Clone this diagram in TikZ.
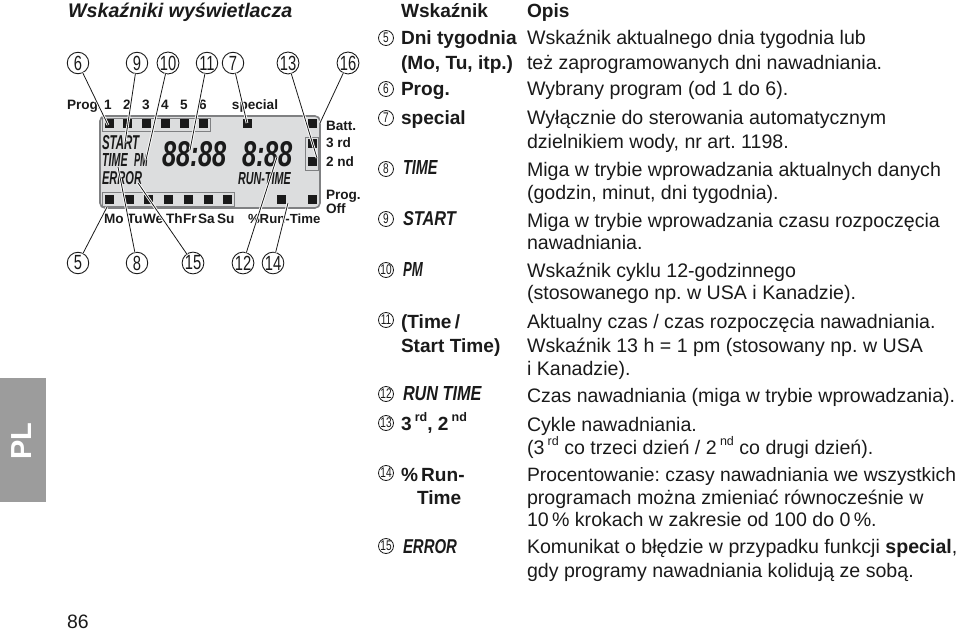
\documentclass[tikz,border=0pt]{standalone}
\usepackage{fontspec}
\setmainfont{Liberation Sans}
\frenchspacing
\newcommand{\upx}[1]{\raisebox{0.42em}{\fontsize{12.5}{13}\selectfont #1}}
\newcommand{\lcdtxt}[3]{\resizebox{#1pt}{#2pt}{\textbf{\textit{#3}}}}
\definecolor{ink}{HTML}{1A1A1A}
\definecolor{lcdbg}{HTML}{DCDDDE}
\definecolor{lcdedge}{HTML}{7F8082}
\definecolor{tabgray}{HTML}{9C9C9C}
\tikzset{
  x=1pt,y=-1pt,
  every node/.style={inner sep=0pt,outer sep=0pt,text=ink},
  body/.style={anchor=base west,font=\fontsize{19.6}{23}\selectfont},
  key/.style={anchor=base west,font=\fontsize{19.1}{23}\selectfont\bfseries},
  lcdkey/.style={anchor=south west},
  small/.style={anchor=base west,font=\fontsize{13.6}{15}\selectfont\bfseries},
  smallc/.style={anchor=base,font=\fontsize{13.6}{15}\selectfont\bfseries},
  bigc/.style={circle,draw=ink,line width=0.9pt,minimum size=21.5pt,font=\fontsize{20.5}{21}\selectfont},
  tabc/.style={circle,draw=ink,line width=0.8pt,minimum size=15pt,font=\fontsize{14}{15}\selectfont},
  leader/.style={draw=ink,line width=0.8pt,preaction={draw=white,line width=2.6pt}},
  sq/.style={fill=ink,minimum size=9pt,shape=rectangle},
  frame/.style={draw=lcdedge,line width=0.9pt,fill=none},
}
\newcommand{\nar}[1]{\scalebox{0.72}[1]{#1}}
\begin{document}
\begin{tikzpicture}
\useasboundingbox (0,0) rectangle (960,631);
% tab and page number
\fill[tabgray] (0,378) rectangle (46,502);
\node[rotate=90,text=white,font=\fontsize{29}{30}\selectfont\bfseries] (pl) at (22,441) {PL};
\node[anchor=base,font=\fontsize{19.4}{23}\selectfont] (page) at (78,628) {86};
% title
\node[anchor=base west,font=\fontsize{19.7}{23}\selectfont\bfseries\itshape] (title) at (68,18) {Wskaźniki wyświetlacza};
% LCD
\draw[draw=lcdedge,line width=1.6pt,fill=lcdbg,rounded corners=5pt] (100,116) rectangle (320,208);
\draw[frame] (102,118) rectangle (210,131);
\draw[frame] (102,192) rectangle (234,206);
\draw[frame] (305,137) rectangle (318,170);
\foreach \xx in {109,127,146,165,184,203,247,312} \node[sq] at (\xx,124) {};
\foreach \xx in {109,129,148,168,188,208,227,281,312} \node[sq] at (\xx,199) {};
\node[sq] (s3rd) at (312,144) {};
\node[sq] (s2nd) at (312,162) {};
\node[lcdkey] (lstart) at (102,150) {\lcdtxt{38}{14}{START}};
\node[lcdkey] (ltime) at (102,167) {\lcdtxt{26}{13}{TIME}};
\node[lcdkey] (lpm) at (134,167) {\lcdtxt{14}{13}{PM}};
\node[lcdkey] (lerror) at (102,185) {\lcdtxt{40}{13}{ERROR}};
\node[lcdkey] (ld1) at (162,167) {\lcdtxt{65}{25}{88:88}};
\node[lcdkey] (ld2) at (242,167) {\lcdtxt{51}{25}{8:88}};
\node[lcdkey] (lrun) at (238,185) {\lcdtxt{53}{12}{RUN-TIME}};
% labels round the LCD
\node[small] (lprog) at (67,110) {Prog.};
\node[smallc] (n1) at (108,110) {1};
\node[smallc] (n2) at (127,110) {2};
\node[smallc] (n3) at (146,110) {3};
\node[smallc] (n4) at (165,110) {4};
\node[smallc] (n5) at (184,110) {5};
\node[smallc] (n6) at (203,110) {6};
\node[smallc] (lspecial) at (255,110) {special};
\node[small] (lbatt) at (326,131) {Batt.};
\node[small] (l3rd) at (326,148) {3 rd};
\node[small] (l2nd) at (326,167) {2 nd};
\node[small] (lprog2) at (326,199) {Prog.};
\node[small] (loff) at (326,213) {Off};
\node[small] (dmo) at (104,223) {Mo};
\node[small] (dtu) at (127,223) {Tu};
\node[small] (dwe) at (143,223) {We};
\node[small] (dth) at (166,223) {Th};
\node[small] (dfr) at (183,223) {Fr};
\node[small] (dsa) at (198,223) {Sa};
\node[small] (dsu) at (217,223) {Su};
\node[small,font=\fontsize{13.2}{15}\selectfont\bfseries] (drun) at (248,223) {\%Run-Time};
% callouts
\node[bigc] (c6) at (78,63) {\nar{6}};
\node[bigc] (c9) at (137,63) {\nar{9}};
\node[bigc] (c10) at (168,63) {\nar{10}};
\node[bigc] (c11) at (207,63) {\nar{11}};
\node[bigc] (c7) at (233,63) {\nar{7}};
\node[bigc] (c13) at (288,63) {\nar{13}};
\node[bigc] (c16) at (348,63) {\nar{16}};
\node[bigc] (c5) at (78,263) {\nar{5}};
\node[bigc] (c8) at (137,263) {\nar{8}};
\node[bigc] (c15) at (193,263) {\nar{15}};
\node[bigc] (c12) at (243,263) {\nar{12}};
\node[bigc] (c14) at (273,263) {\nar{14}};
\coordinate (e6) at (108,125);
\coordinate (e9) at (125,143);
\coordinate (e10) at (146,160);
\coordinate (e11) at (190,150);
\coordinate (e7) at (247,123);
\coordinate (e13) at (317,158);
\coordinate (e16) at (320,123);
\coordinate (e5) at (107,207);
\coordinate (e8) at (118,167);
\coordinate (e15) at (138,183);
\coordinate (e12) at (277,157);
\coordinate (e14) at (288,203);
\foreach \a/\b in {c6/e6,c9/e9,c10/e10,c11/e11,c7/e7,c13/e13,c16/e16,c5/e5,c8/e8,c15/e15,c12/e12,c14/e14}
  \draw[leader] (\a) -- (\b);
% table head
\node[key] (hw) at (401,18) {Wskaźnik};
\node[key] (ho) at (527,18) {Opis};
% row markers
\node[tabc] (r5) at (386,38) {\nar{5}};
\node[tabc] (r6) at (386,89) {\nar{6}};
\node[tabc] (r7) at (386,118) {\nar{7}};
\node[tabc] (r8) at (386,169) {\nar{8}};
\node[tabc] (r9) at (386,219) {\nar{9}};
\node[tabc] (r10) at (386,270) {\nar{10}};
\node[tabc] (r11) at (386,320) {\nar{11}};
\node[tabc] (r12) at (386,394) {\nar{12}};
\node[tabc] (r13) at (386,423) {\nar{13}};
\node[tabc] (r14) at (386,473) {\nar{14}};
\node[tabc] (r15) at (386,546) {\nar{15}};
% keys
\node[key] (k5a) at (401,45) {Dni tygodnia};
\node[key] (k5b) at (401,70) {(Mo, Tu, itp.)};
\node[key] (k6) at (401,96) {Prog.};
\node[key] (k7) at (401,125) {special};
\node[lcdkey] (k8) at (403,175) {\lcdtxt{35}{14}{TIME}};
\node[lcdkey] (k9) at (403,226) {\lcdtxt{54}{14}{START}};
\node[lcdkey] (k10) at (403,276) {\lcdtxt{20}{14}{PM}};
\node[key] (k11a) at (401,328) {(Time\,/};
\node[key] (k11b) at (401,352) {Start Time)};
\node[lcdkey] (k12) at (403,401) {\lcdtxt{79}{14}{RUN TIME}};
\node[key] (k13) at (401,430) {3\,\upx{rd}, 2\,\upx{nd}};
\node[key] (k14a) at (401,481) {\%\,Run-};
\node[key] (k14b) at (417,504) {Time};
\node[lcdkey] (k15) at (403,554) {\lcdtxt{54}{14}{ERROR}};
% descriptions
\node[body] (d5a) at (527,45) {Wskaźnik aktualnego dnia tygodnia lub};
\node[body] (d5b) at (527,70) {też zaprogramowanych dni nawadniania.};
\node[body] (d6) at (527,96) {Wybrany program (od 1 do 6).};
\node[body] (d7a) at (527,125) {Wyłącznie do sterowania automatycznym};
\node[body] (d7b) at (527,149) {dzielnikiem wody, nr art. 1198.};
\node[body] (d8a) at (527,176) {Miga w trybie wprowadzania aktualnych danych};
\node[body] (d8b) at (527,199) {(godzin, minut, dni tygodnia).};
\node[body] (d9a) at (527,227) {Miga w trybie wprowadzania czasu rozpoczęcia};
\node[body] (d9b) at (527,249) {nawadniania.};
\node[body] (d10a) at (527,277) {Wskaźnik cyklu 12-godzinnego};
\node[body] (d10b) at (527,299) {(stosowanego np. w USA i Kanadzie).};
\node[body] (d11a) at (527,328) {Aktualny czas / czas rozpoczęcia nawadniania.};
\node[body] (d11b) at (527,352) {Wskaźnik 13 h = 1 pm (stosowany np. w USA};
\node[body] (d11c) at (527,375) {i Kanadzie).};
\node[body,font=\fontsize{19.5}{23}\selectfont] (d12) at (527,402) {Czas nawadniania (miga w trybie wprowadzania).};
\node[body] (d13a) at (527,431) {Cykle nawadniania.};
\node[body] (d13b) at (527,454) {(3\,\upx{rd} co trzeci dzień / 2\,\upx{nd} co drugi dzień).};
\node[body,font=\fontsize{19.3}{23}\selectfont] (d14a) at (527,481) {Procentowanie: czasy nawadniania we wszystkich};
\node[body] (d14b) at (527,504) {programach można zmieniać równocześnie w};
\node[body] (d14c) at (527,526) {10\,\% krokach w zakresie od 100 do 0\,\%.};
\node[body] (d15a) at (527,553) {Komunikat o błędzie w przypadku funkcji \textbf{special},};
\node[body] (d15b) at (527,577) {gdy programy nawadniania kolidują ze sobą.};
\end{tikzpicture}
\end{document}
